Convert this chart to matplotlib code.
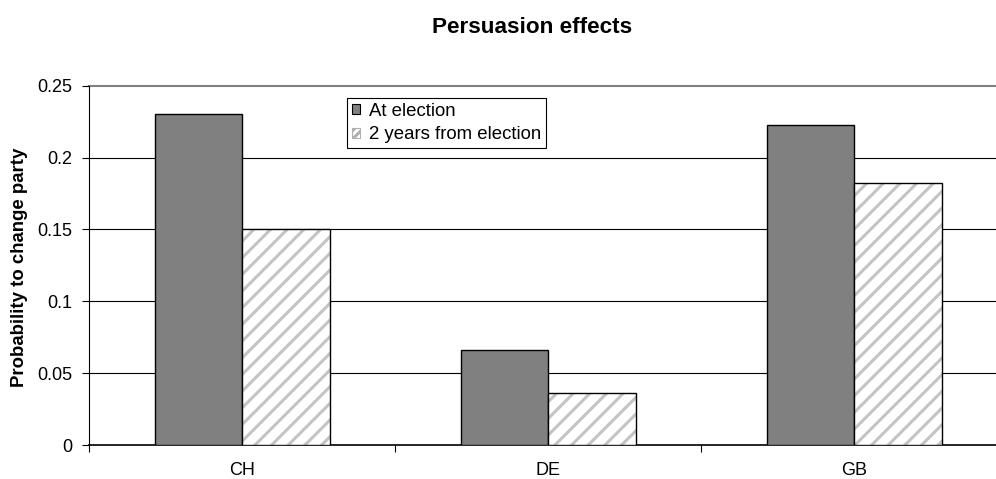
import matplotlib
matplotlib.use("Agg")
import matplotlib.pyplot as plt
from matplotlib.patches import Patch
import numpy as np

categories = ["CH", "DE", "GB"]
at_election = [0.230, 0.066, 0.223]
two_years = [0.150, 0.036, 0.182]
series_names = ["At election", "2 years from election"]
yticks = [0, 0.05, 0.1, 0.15, 0.2, 0.25]
ytick_labels = ["0", "0.05", "0.1", "0.15", "0.2", "0.25"]

plt.rcParams['font.family'] = ['Liberation Sans', 'DejaVu Sans']
plt.rcParams['hatch.linewidth'] = 2.2

W, H = 996, 479
fig = plt.figure(figsize=(W / 100, H / 100), dpi=100)
left, right, bottom, top = 89, 996, 479 - 445, 479 - 85.7
ax = fig.add_axes([left / W, bottom / H, (right - left) / W, (top - bottom) / H])

x = np.arange(len(categories))
bw = 87.5 / 306
ax.bar(x - bw / 2, at_election, bw, color="#808080", edgecolor="black", linewidth=1.0, zorder=3)
# hatched series: gray hatch then black outline
ax.bar(x + bw / 2, two_years, bw, color="white", edgecolor="#c4c4c4", hatch="//", linewidth=0, zorder=3)
ax.bar(x + bw / 2, two_years, bw, fill=False, edgecolor="black", linewidth=1.0, zorder=4)

ax.set_yticks(yticks)
ax.set_yticklabels(ytick_labels, fontsize=13)
for yv in yticks[1:-1]:
    ax.axhline(yv, color="black", linewidth=0.8, zorder=1)
ax.axhline(0.25, color="#808080", linewidth=1.5, zorder=1, clip_on=False)

ax.set_xticks([-0.5, 0.5, 1.5, 2.5])
ax.set_xticklabels([])
ax.set_xticks(x, minor=True)
ax.set_xticklabels(categories, minor=True, fontsize=13)
ax.tick_params(axis="x", which="major", length=5, direction="out", width=0.8)
ax.tick_params(axis="x", which="minor", length=0, pad=12)
ax.tick_params(axis="y", length=5, direction="out", width=0.8, pad=7)

ax.set_xlim(-0.5, -0.5 + (right - left) / 306)
ax.set_ylim(0, 0.25)

for s in ["top", "right"]:
    ax.spines[s].set_visible(False)
ax.spines["left"].set_linewidth(0.8)
ax.spines["bottom"].set_linewidth(1.2)

fig.text(20 / W, 1 - 267 / H, "Probability to change party", rotation=90,
         ha="center", va="center", fontsize=13.4, fontweight="bold")

fig.text(532 / W, 1 - 33 / H, "Persuasion effects", ha="center", va="baseline",
         fontsize=16.2, fontweight="bold")

handles = [Patch(facecolor="#808080", edgecolor="black", linewidth=0.8),
           Patch(facecolor="white", edgecolor="#b0b0b0", hatch="////", linewidth=0.8)]
leg = fig.legend(handles, series_names, loc="upper left",
                 bbox_to_anchor=(347 / W, 1 - 98 / H), fontsize=13.4,
                 handlelength=0.45, handleheight=0.45, handletextpad=0.5,
                 fancybox=False, framealpha=1, edgecolor="black",
                 borderpad=0.25, labelspacing=0.35, borderaxespad=0)
leg.get_frame().set_linewidth(0.8)

fig.savefig("out.png", dpi=100)
